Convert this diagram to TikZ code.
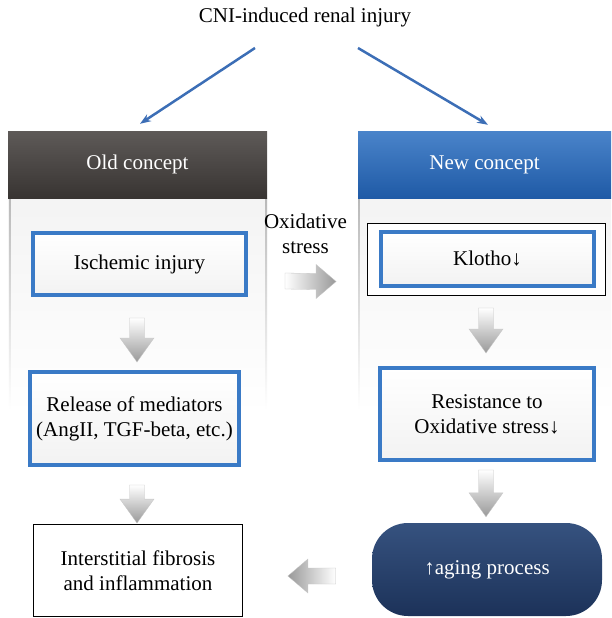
\documentclass[tikz,border=0pt]{standalone}
\usepackage{fontspec}
\setmainfont{Liberation Serif}
\usepackage{xcolor}
\usetikzlibrary{arrows.meta,positioning,calc,shadows}
\definecolor{HeadGrayTop}{HTML}{5E5A58}
\definecolor{HeadGrayBot}{HTML}{383432}
\definecolor{HeadBlueTop}{HTML}{4A84CA}
\definecolor{HeadBlueBot}{HTML}{1F5AA6}
\definecolor{BoxBlue}{HTML}{3A7AC6}
\definecolor{ArrowBlue}{HTML}{3C6EB6}
\definecolor{AgeTop}{HTML}{36527F}
\definecolor{AgeBot}{HTML}{1C3259}
\newcommand{\bigfont}{\fontsize{21}{25}\selectfont}
% grey block arrows between two named coordinates
\newcommand{\blockdown}[2]{%
  \shadedraw[top color=white,bottom color=gray!80,draw=gray!45,line width=0.3pt]
    ($(#1)+(-7.5,0)$) -- ($(#2)+(-7.5,-24)$) -- ($(#2)+(-17,-24)$) -- (#2)
    -- ($(#2)+(17,-24)$) -- ($(#2)+(7.5,-24)$) -- ($(#1)+(7.5,0)$) -- cycle;}
\newcommand{\blockright}[2]{%
  \shadedraw[left color=white,right color=gray!80,draw=gray!45,line width=0.3pt]
    ($(#1)+(0,-8)$) -- ($(#2)+(-20,-8)$) -- ($(#2)+(-20,-17)$) -- (#2)
    -- ($(#2)+(-20,17)$) -- ($(#2)+(-20,8)$) -- ($(#1)+(0,8)$) -- cycle;}
\newcommand{\blockleft}[2]{%
  \shadedraw[right color=white,left color=gray!80,draw=gray!45,line width=0.3pt]
    ($(#1)+(0,-8)$) -- ($(#2)+(20,-8)$) -- ($(#2)+(20,-17)$) -- (#2)
    -- ($(#2)+(20,17)$) -- ($(#2)+(20,8)$) -- ($(#1)+(0,8)$) -- cycle;}
\tikzset{
  headbox/.style={minimum height=67pt,inner sep=0pt,text=white,font=\bigfont},
  bluebox/.style={draw=BoxBlue,line width=4pt,top color=white,bottom color=gray!10,align=center,inner sep=0pt,font=\bigfont,
    drop shadow={opacity=0.3,shadow xshift=1pt,shadow yshift=-2pt}},
  plainbox/.style={draw=black,line width=0.8pt,fill=white,align=center,inner sep=0pt,font=\bigfont},
  agebox/.style={rounded corners=36pt,top color=AgeTop,bottom color=AgeBot,text=white,align=center,inner sep=0pt,font=\bigfont},
  titlearrow/.style={-{Stealth[length=11pt,width=8pt]},line width=2.5pt,draw=ArrowBlue},
  columnpanel/.style={top color=gray!9,bottom color=white},
  columnedge/.style={top color=gray!55,bottom color=white}
}
\begin{document}
\begin{tikzpicture}[x=1pt,y=-1pt]
\useasboundingbox (0,0) rectangle (611,618);
% column panels
\shade[columnpanel] (8,198) rectangle (267,415);
\shade[columnpanel] (358,198) rectangle (611,415);
\shade[columnedge] (9,198) rectangle (10.5,410);
\shade[columnedge] (265.5,198) rectangle (267,410);
\shade[columnedge] (358,198) rectangle (359.5,410);

% headers and title
\node[font=\bigfont] (title) at (305,17) {CNI-induced renal injury};
\node[headbox,minimum width=259pt,top color=HeadGrayTop,bottom color=HeadGrayBot] (oldhead) at (137.5,164.5) {Old concept};
\node[headbox,minimum width=253pt,top color=HeadBlueTop,bottom color=HeadBlueBot] (newhead) at (484.5,164.5) {New concept};
\draw[titlearrow] ($(title.center)+(-50,31)$) -- ($(oldhead.north)+(2.5,-7)$);
\draw[titlearrow] ($(title.center)+(53,31)$) -- ($(newhead.north)+(3.5,-6)$);

% old concept lane
\node[bluebox,minimum width=213pt,minimum height=62pt] (isch) at (139.5,264) {Ischemic injury};
\node[bluebox,minimum width=209pt,minimum height=93pt] (rel) at (134.5,418.5) {Release of mediators\\(AngII, TGF-beta, etc.)};
\node[plainbox,minimum width=209pt,minimum height=92pt] (inter) at (138,570.5) {Interstitial fibrosis\\and inflammation};

% new concept lane
\node[plainbox,minimum width=238pt,minimum height=72pt] (klothoout) at (486.5,259.5) {};
\node[bluebox,minimum width=213pt,minimum height=54pt] (klotho) at (487.5,259) {Klotho↓};
\node[bluebox,minimum width=214pt,minimum height=92pt] (res) at (487,414) {Resistance to\\Oxidative stress↓};
\node[agebox,minimum width=230pt,minimum height=93pt] (aging) at (487,569.5) {↑aging process};

% block arrows
\coordinate (d1s) at ($(isch.south)+(-2.5,21)$);
\coordinate (d1e) at ($(rel.north)+(2.5,-8)$);
\coordinate (d2s) at ($(rel.south)+(2.5,18)$);
\coordinate (d2e) at ($(inter.north)+(-1,-1)$);
\coordinate (d3s) at ($(klothoout.south)+(-0.5,12)$);
\coordinate (d3e) at ($(res.north)+(-1,-13)$);
\coordinate (d4s) at ($(res.south)+(-1,8)$);
\coordinate (d4e) at ($(aging.north)+(-1,-6)$);
\blockdown{d1s}{d1e}
\blockdown{d2s}{d2e}
\blockdown{d3s}{d3e}
\blockdown{d4s}{d4e}
\coordinate (ox1) at ($(isch.east)+(37,17)$);
\coordinate (ox2) at ($(klothoout.west)+(-31,22)$);
\blockright{ox1}{ox2}
\node[align=center,font=\bigfont] (oxlabel) at ($(ox1)!0.4!(ox2)+(0,-47)$) {Oxidative\\stress};
\coordinate (lt1) at ($(aging.west)+(-36,6.5)$);
\coordinate (lt2) at ($(inter.east)+(45,5.5)$);
\blockleft{lt1}{lt2}
\end{tikzpicture}
\end{document}
